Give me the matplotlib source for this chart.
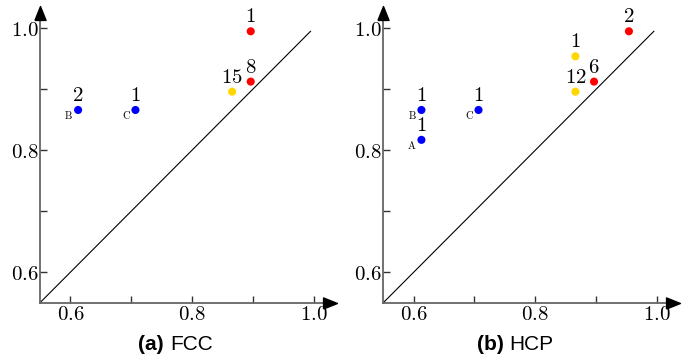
import matplotlib
matplotlib.use("Agg")
import matplotlib.pyplot as plt
import numpy as np

plt.rcParams['mathtext.fontset'] = 'cm'

# ---- data ----
fcc_x = [0.6127, 0.707, 0.866, 0.8966, 0.8966]
fcc_y = [0.866, 0.866, 0.896, 0.9125, 0.995]
fcc_colors = ['blue', 'blue', 'gold', 'red', 'red']
fcc_counts = ['2', '1', '15', '8', '1']
fcc_letters = ['B', 'C', '', '', '']

hcp_x = [0.6127, 0.6127, 0.7066, 0.866, 0.866, 0.8966, 0.954]
hcp_y = [0.866, 0.817, 0.866, 0.954, 0.896, 0.9125, 0.995]
hcp_colors = ['blue', 'blue', 'blue', 'gold', 'gold', 'red', 'red']
hcp_counts = ['1', '1', '1', '1', '12', '6', '2']
hcp_letters = ['B', 'A', 'C', '', '', '', '']

ticks = [0.6, 0.7, 0.8, 0.9, 1.0]
tick_labels = ['$0.6$', '', '$0.8$', '', '$1.0$']
diag = [0.55, 0.995]
captions = [('(a)', 'FCC'), ('(b)', 'HCP')]

fig = plt.figure(figsize=(6.88, 3.60), dpi=100)
axes_pos = [[40/688, 57.3/360, 290/688, 289.7/360],
            [383.3/688, 57.3/360, 290/688, 289.7/360]]
cap_pos = [(164, 170), (504, 509.5)]

datasets = [(fcc_x, fcc_y, fcc_colors, fcc_counts, fcc_letters),
            (hcp_x, hcp_y, hcp_colors, hcp_counts, hcp_letters)]

tri_right = [(-1, -0.8), (1, 0), (-1, 0.8), (-1, -0.8)]
tri_up = [(-0.8, -1), (0, 1), (0.8, -1), (-0.8, -1)]

for i, (xs, ys, cols, cnts, lets) in enumerate(datasets):
    ax = fig.add_axes(axes_pos[i])
    ax.set_xlim(0.55, 1.027)
    ax.set_ylim(0.55, 1.025)
    for s in ['top', 'right']:
        ax.spines[s].set_visible(False)
    for s in ['left', 'bottom']:
        ax.spines[s].set_color('#666666')
        ax.spines[s].set_linewidth(1.3)
    ax.set_xticks(ticks)
    ax.set_xticklabels(tick_labels)
    ax.set_yticks(ticks)
    ax.set_yticklabels(tick_labels)
    ax.tick_params(direction='in', length=5, width=1.0, color='#333333',
                   labelsize=15, pad=1)
    ax.plot(diag, diag, color='black', lw=0.8)
    ax.scatter(xs, ys, c=cols, s=34, zorder=3, linewidths=0)
    for x, y, c, l in zip(xs, ys, cnts, lets):
        ax.annotate('$%s$' % c, (x, y), xytext=(0, 3.5), textcoords='offset points',
                    ha='center', va='bottom', fontsize=15)
        if l:
            ax.annotate(r'$\mathrm{%s}$' % l, (x, y), xytext=(-6.8, -3.8),
                        textcoords='offset points', ha='center', va='center',
                        fontsize=7.5)
    # arrowheads
    ax.plot([1.0], [0.0], marker=tri_right, markersize=10, color='black',
            transform=ax.transAxes, clip_on=False, zorder=5)
    ax.plot([0.0], [1.0], marker=tri_up, markersize=10, color='black',
            transform=ax.transAxes, clip_on=False, zorder=5)
    a, b = cap_pos[i]
    fig.text(a/688, 15/360, captions[i][0], ha='right', va='center',
             fontsize=15, fontweight='bold', family='Liberation Sans')
    fig.text(b/688, 15/360, captions[i][1], ha='left', va='center',
             fontsize=15, family='Liberation Sans')

fig.savefig('out.png', dpi=100)
